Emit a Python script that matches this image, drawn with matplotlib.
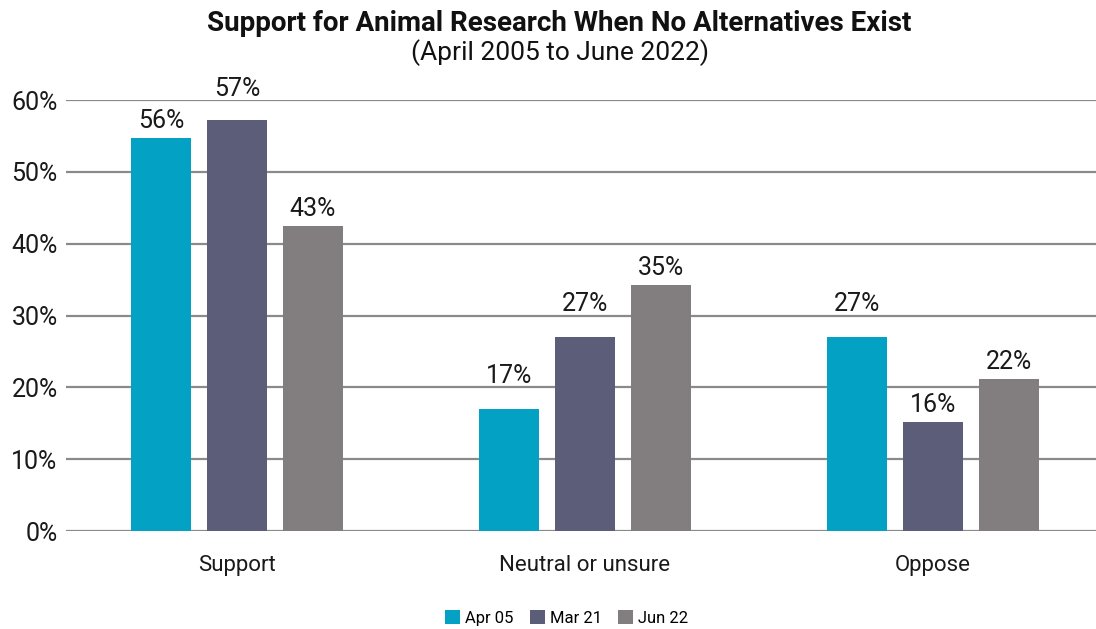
import numpy as np
import matplotlib
matplotlib.use("Agg")
import matplotlib.pyplot as plt
from matplotlib.patches import Patch

plt.rcParams["font.family"] = ["Roboto", "DejaVu Sans"]

categories = ["Support", "Neutral or unsure", "Oppose"]
series = ["Apr 05", "Mar 21", "Jun 22"]
colors = ["#03A2C5", "#5C5D78", "#827E7F"]
values = {
    "Apr 05": [54.7, 17.0, 27.0],
    "Mar 21": [57.2, 27.0, 15.2],
    "Jun 22": [42.5, 34.3, 21.2],
}
labels = {
    "Apr 05": ["56%", "17%", "27%"],
    "Mar 21": ["57%", "27%", "16%"],
    "Jun 22": ["43%", "35%", "22%"],
}
yticks = [0, 10, 20, 30, 40, 50, 60]

fig = plt.figure(figsize=(10.96, 6.29), dpi=100)
ax = fig.add_axes([0.0602, 0.1558, 0.9398, 0.6852])

ax.set_ylim(0, 60)
ax.set_xlim(-0.491, 2.468)

# data units per pixel on y (axes is 431 px tall for 60 units)
upp = 60 / (0.6852 * 629)
gap = 10 * upp       # label baseline above bar top
text_h = 19 * upp    # cap height of labels
grid_gap = 4.5 * upp

x = np.arange(len(categories))
width = 0.172
step = 0.218
for i, s in enumerate(series):
    pos = x + (i - 1) * step
    bars = ax.bar(pos, values[s], width=width, color=colors[i], zorder=3)
    for b, lab in zip(bars, labels[s]):
        base = b.get_height() + gap
        # hop over a gridline that would cut through the label
        for g in yticks:
            if base - 2 * upp <= g <= base + text_h + 2 * upp:
                base = g + grid_gap
        ax.text(b.get_x() + b.get_width() / 2, base, lab, ha="center",
                va="baseline", fontsize=18, color="#1a1a1a", clip_on=False)

ax.set_yticks(yticks)
ax.set_yticklabels([f"{t}%" for t in yticks], fontsize=18, color="#1a1a1a")
ax.set_xticks(x)
ax.set_xticklabels(categories, fontsize=16, color="#1a1a1a")
ax.tick_params(axis="both", length=0)
ax.tick_params(axis="y", pad=6)
ax.tick_params(axis="x", pad=17)
ax.grid(axis="y", color="#8a8a8a", linewidth=1.6, zorder=0)
for sp in ax.spines.values():
    sp.set_visible(False)

fig.text(0.51, 0.963, "Support for Animal Research When No Alternatives Exist",
         ha="center", va="center", fontsize=20, fontweight="bold", color="#111111")
fig.text(0.511, 0.916, "(April 2005 to June 2022)", ha="center", va="center",
         fontsize=19, color="#111111")

handles = [Patch(facecolor=c, label=s) for s, c in zip(series, colors)]
fig.legend(handles=handles, loc="center", bbox_to_anchor=(0.517, 0.017),
           ncol=3, frameon=False, fontsize=12, handlelength=0.9, handleheight=0.9,
           handletextpad=0.3, columnspacing=1.0)

fig.savefig("out.png", dpi=100)
